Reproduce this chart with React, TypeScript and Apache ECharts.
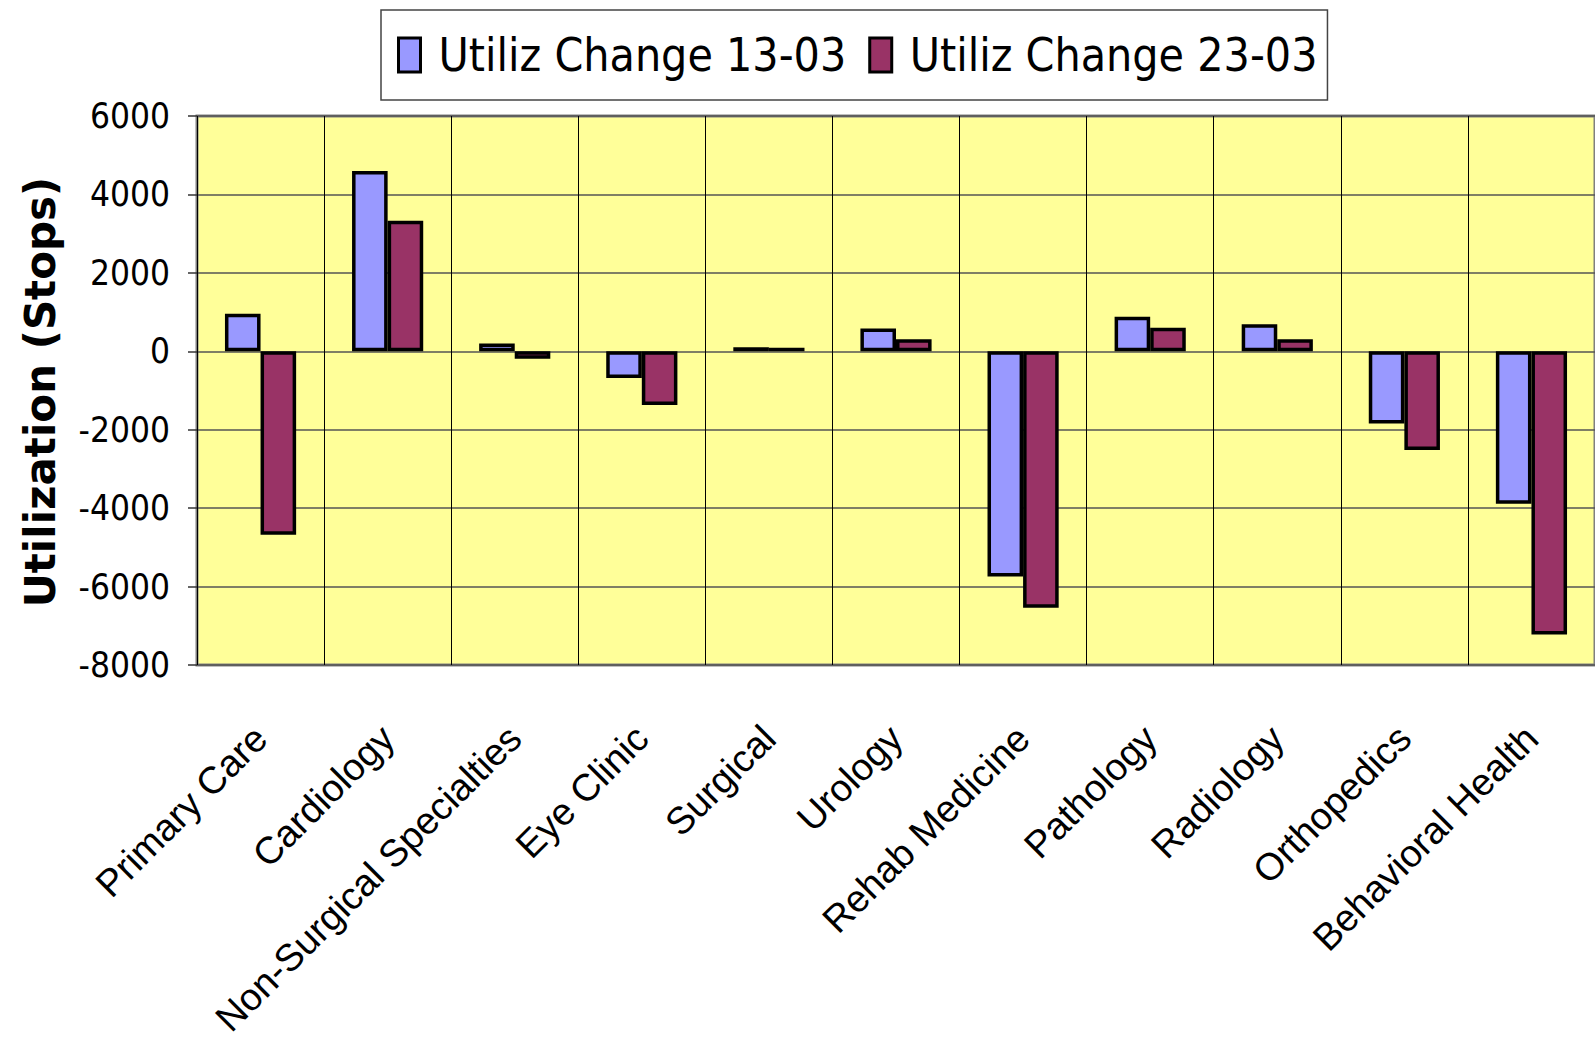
import React, { useEffect, useRef } from "react";
import * as echarts from "echarts";

const categories = [
  "Primary Care",
  "Cardiology",
  "Non-Surgical Specialties",
  "Eye Clinic",
  "Surgical",
  "Urology",
  "Rehab Medicine",
  "Pathology",
  "Radiology",
  "Orthopedics",
  "Behavioral Health",
];
const seriesNames = ["Utiliz Change 13-03", "Utiliz Change 23-03"];
const change1303 = [960, 4600, 200, -680, 100, 580, -5740, 880, 690, -1840, -3890];
const change2303 = [-4680, 3330, -190, -1370, 90, 310, -6540, 600, 310, -2520, -7220];
const yMin = -8000;
const yMax = 6000;
const yStep = 2000;
const yTitle = "Utilization (Stops)";

const NARROW = "'Liberation Sans Narrow', 'Arial Narrow', 'DejaVu Sans Condensed', 'Liberation Sans'";

export default function App() {
  const ref = useRef<HTMLDivElement>(null);
  useEffect(() => {
    if (!ref.current) return;
    const chart = echarts.init(ref.current, undefined, { renderer: "svg" });
    chart.setOption({
      animation: false,
      backgroundColor: "#ffffff",
      legend: {
        left: 381,
        top: 10,
        padding: [22, 10, 22, 16],
        itemGap: 22,
        itemWidth: 22,
        itemHeight: 34,
        icon: "rect",
        borderColor: "#444",
        borderWidth: 1.5,
        backgroundColor: "#ffffff",
        textStyle: {
          fontFamily: NARROW,
          fontSize: 46,
          color: "#000",
          padding: [0, 0, 0, 13],
        },
        itemStyle: { borderColor: "#000", borderWidth: 3 },
        data: seriesNames,
      },
      grid: {
        left: 197,
        top: 116,
        width: 1411,
        height: 549,
        show: true,
        backgroundColor: "#FFFF99",
        borderColor: "#808080",
        borderWidth: 3,
        containLabel: false,
      },
      xAxis: {
        type: "category",
        data: categories,
        boundaryGap: true,
        axisLine: { show: false, onZero: false },
        axisTick: { show: false },
        splitLine: { show: true, lineStyle: { color: "#000", width: 1 } },
        axisLabel: {
          interval: 0,
          rotate: 45,
          margin: 67,
          fontFamily: "'Liberation Sans', Arial",
          fontSize: 38,
          color: "#000",
        },
      },
      yAxis: {
        type: "value",
        min: yMin,
        max: yMax,
        interval: yStep,
        axisLine: { show: false },
        axisTick: { show: true, length: 9, lineStyle: { color: "#333", width: 1.5 } },
        splitLine: { show: true, lineStyle: { color: "#555", width: 1.5 } },
        axisLabel: {
          margin: 27,
          fontFamily: NARROW,
          fontSize: 35,
          color: "#000",
          formatter: (v: number) => String(v),
        },
      },
      graphic: [
        {
          type: "text",
          x: 40,
          y: 392,
          rotation: Math.PI / 2,
          style: {
            text: yTitle,
            fontFamily: "DejaVu Sans",
            fontWeight: "bold",
            fontSize: 42,
            fill: "#000",
            align: "center",
            verticalAlign: "middle",
          },
        },
      ],
      series: [
        {
          name: seriesNames[0],
          type: "bar",
          data: change1303,
          barGap: "0%",
          barCategoryGap: "44%",
          itemStyle: { color: "#9999FF", borderColor: "#000", borderWidth: 3.5 },
        },
        {
          name: seriesNames[1],
          type: "bar",
          data: change2303,
          barGap: "0%",
          barCategoryGap: "44%",
          itemStyle: { color: "#993366", borderColor: "#000", borderWidth: 3.5 },
        },
      ],
    });
    return () => chart.dispose();
  }, []);
  return (
    <div
      ref={ref}
      style={{ position: "fixed", left: 0, top: 0, width: 1595, height: 1047 }}
    />
  );
}
